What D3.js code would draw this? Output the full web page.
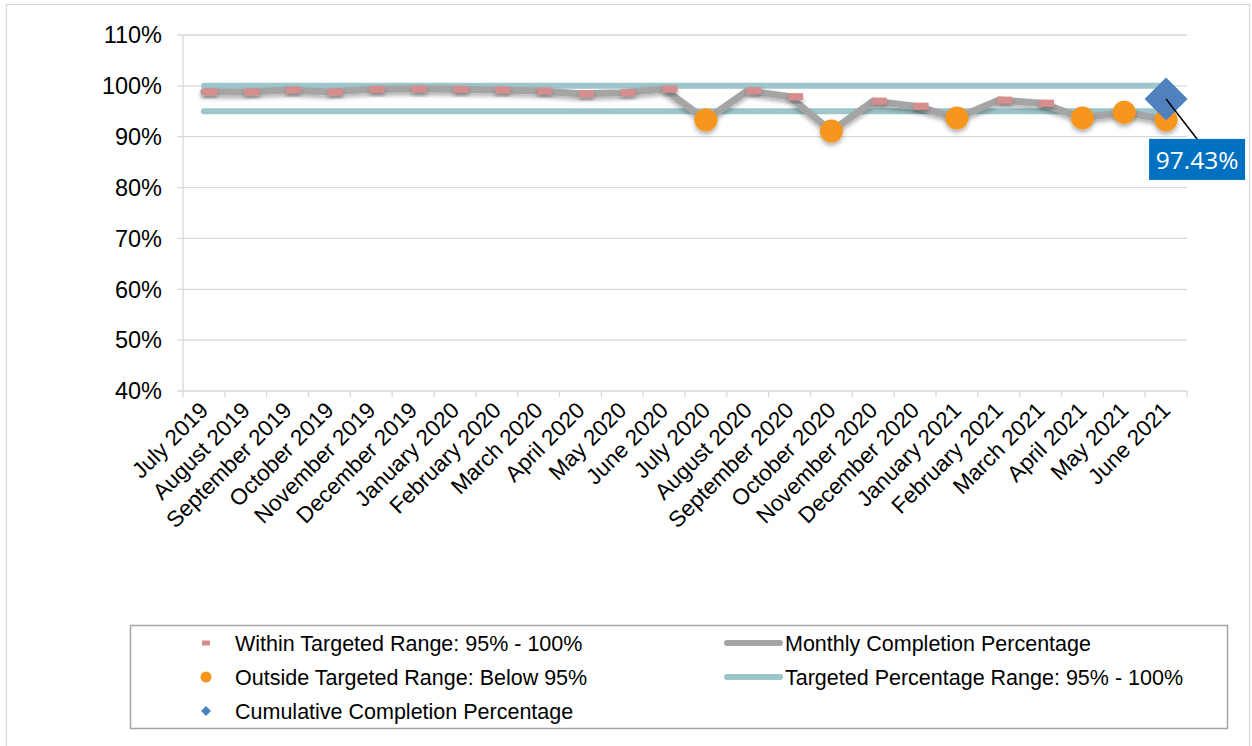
<!DOCTYPE html>
<html>
<head>
<meta charset="utf-8">
<script src="https://cdn.jsdelivr.net/npm/d3@7/dist/d3.min.js"></script>
<style>
  html, body { margin: 0; padding: 0; background: #fff; }
  svg { display: block; font-family: "Liberation Sans", Arial, sans-serif; }
</style>
</head>
<body>
<svg id="chart" width="1252" height="746"></svg>
<script>
// ---- Data ----
const months = ["July 2019","August 2019","September 2019","October 2019","November 2019","December 2019",
  "January 2020","February 2020","March 2020","April 2020","May 2020","June 2020",
  "July 2020","August 2020","September 2020","October 2020","November 2020","December 2020",
  "January 2021","February 2021","March 2021","April 2021","May 2021","June 2021"];
const monthlyPct = [98.85, 98.8, 99.19, 98.8, 99.32, 99.38, 99.32, 99.19, 98.99, 98.46, 98.66, 99.38,
  93.3, 99.05, 97.87, 91.1, 97.0, 96.0, 93.7, 97.2, 96.6, 93.7, 94.8, 93.3];
const targetLow = 95;
const targetHigh = 100;
const cumulativePct = 97.43;
const cumulativeMonth = "June 2021";
const yTicks = [40, 50, 60, 70, 80, 90, 100, 110];
const legendLeft = ["Within Targeted Range: 95% - 100%", "Outside Targeted Range: Below 95%", "Cumulative Completion Percentage"];
const legendRight = ["Monthly Completion Percentage", "Targeted Percentage Range: 95% - 100%"];

// ---- Colors ----
const cGray = "#A5A5A5", cTeal = "#9DC6CA", cPink = "#D68D8D", cOrange = "#F7961D", cBlue = "#4F81BD", cGrid = "#D9D9D9";

const svg = d3.select("#chart");

const defs = svg.append("defs");
const f = defs.append("filter").attr("id", "shadow").attr("x", "-30%").attr("y", "-30%").attr("width", "160%").attr("height", "180%");
f.append("feDropShadow").attr("dx", 0).attr("dy", 3).attr("stdDeviation", 2).attr("flood-color", "#000").attr("flood-opacity", 0.3);

// outer frame
svg.append("rect").attr("x", 6.5).attr("y", 4.5).attr("width", 1243).attr("height", 745)
  .attr("fill", "none").attr("stroke", "#D9D9D9").attr("stroke-width", 1.3);

const x = d3.scaleBand().domain(months).range([183, 1187]);
const y = d3.scaleLinear().domain([40, 110]).range([391, 35]);
const cx = m => x(m) + x.bandwidth() / 2;

// gridlines
svg.append("g").selectAll("line").data(yTicks).join("line")
  .attr("x1", 177).attr("x2", 1187)
  .attr("y1", d => y(d)).attr("y2", d => y(d))
  .attr("stroke", cGrid).attr("stroke-width", 1.3);

// y axis line
svg.append("line").attr("x1", 183).attr("x2", 183).attr("y1", y(110)).attr("y2", y(40))
  .attr("stroke", cGrid).attr("stroke-width", 1.3);

// x tick marks at band boundaries
const bounds = months.map(m => x(m)).concat([x.range()[1]]);
svg.append("g").selectAll("line").data(bounds).join("line")
  .attr("x1", d => d).attr("x2", d => d).attr("y1", y(40)).attr("y2", y(40) + 6)
  .attr("stroke", cGrid).attr("stroke-width", 1.3);

// y labels
svg.append("g").selectAll("text").data(yTicks).join("text")
  .attr("x", 162).attr("y", d => y(d)).attr("dy", "0.35em")
  .attr("text-anchor", "end").attr("font-size", 23.5).attr("fill", "#000")
  .text(d => d + "%");

// x labels
svg.append("g").selectAll("text").data(months).join("text")
  .attr("transform", m => `translate(${cx(m)},${y(40) + 15}) rotate(-45)`)
  .attr("text-anchor", "end").attr("dy", "0.35em")
  .attr("font-size", 22.5).attr("fill", "#000")
  .text(m => m);

// target lines
const lineGen = d3.line().x(d => cx(d.m)).y(d => y(d.v));
[targetHigh, targetLow].forEach(t => {
  svg.append("path").datum(months.map(m => ({ m, v: t })))
    .attr("d", lineGen).attr("fill", "none").attr("stroke", cTeal)
    .attr("stroke-width", 6).attr("stroke-linecap", "round");
});

// monthly line
const monthly = months.map((m, i) => ({ m, v: monthlyPct[i] }));
svg.append("path").datum(monthly)
  .attr("d", lineGen).attr("fill", "none").attr("stroke", cGray)
  .attr("stroke-width", 7).attr("stroke-linecap", "round").attr("stroke-linejoin", "round")
  .attr("filter", "url(#shadow)");

// within-range markers (dash)
svg.append("g").selectAll("rect").data(monthly.filter(d => d.v >= targetLow)).join("rect")
  .attr("x", d => cx(d.m) + 6 - 7.5).attr("y", d => y(d.v) - 3.5)
  .attr("width", 15).attr("height", 7)
  .attr("fill", cPink).attr("filter", "url(#shadow)");

// outside-range markers
svg.append("g").selectAll("circle").data(monthly.filter(d => d.v < targetLow)).join("circle")
  .attr("cx", d => cx(d.m)).attr("cy", d => y(d.v)).attr("r", 11.5)
  .attr("fill", cOrange).attr("filter", "url(#shadow)");

// cumulative diamond
const dx0 = cx(cumulativeMonth), dy0 = y(cumulativePct);
svg.append("path")
  .attr("d", d3.symbol().type(d3.symbolSquare).size(2 * 21.5 * 21.5)())
  .attr("transform", `translate(${dx0},${dy0}) rotate(45)`)
  .attr("fill", cBlue);

// data label
const lbX = dx0 + 31, lbY = dy0 + 40;
svg.append("line").attr("x1", dx0).attr("y1", dy0).attr("x2", lbX).attr("y2", lbY)
  .attr("stroke", "#000").attr("stroke-width", 1.5);
svg.append("rect").attr("x", lbX - 48).attr("y", lbY).attr("width", 96).attr("height", 41)
  .attr("fill", "#0070C0");
svg.append("text").attr("x", lbX).attr("y", lbY + 21).attr("dy", "0.35em")
  .attr("text-anchor", "middle").attr("fill", "#fff")
  .attr("font-family", "'Open Sans', sans-serif").attr("font-size", 24.5)
  .text(cumulativePct.toFixed(2) + "%");

// legend
svg.append("rect").attr("x", 130.5).attr("y", 625.5).attr("width", 1097).attr("height", 103)
  .attr("fill", "#fff").attr("stroke", "#A6A6A6").attr("stroke-width", 1.5);
const rowY = [643, 677, 711];
const lg = svg.append("g").attr("font-size", 21.5).attr("fill", "#000");
legendLeft.forEach((t, i) => {
  lg.append("text").attr("x", 235).attr("y", rowY[i]).attr("dy", "0.35em").text(t);
});
legendRight.forEach((t, i) => {
  lg.append("text").attr("x", 785).attr("y", rowY[i]).attr("dy", "0.35em").text(t);
});
svg.append("rect").attr("x", 202).attr("y", rowY[0] - 2.5).attr("width", 8).attr("height", 5).attr("fill", cPink);
svg.append("circle").attr("cx", 206).attr("cy", rowY[1]).attr("r", 5.5).attr("fill", cOrange);
svg.append("path").attr("d", d3.symbol().type(d3.symbolSquare).size(50)())
  .attr("transform", `translate(206,${rowY[2]}) rotate(45)`).attr("fill", cBlue);
svg.append("line").attr("x1", 727).attr("x2", 780).attr("y1", rowY[0]).attr("y2", rowY[0])
  .attr("stroke", cGray).attr("stroke-width", 6).attr("stroke-linecap", "round");
svg.append("line").attr("x1", 727).attr("x2", 780).attr("y1", rowY[1]).attr("y2", rowY[1])
  .attr("stroke", cTeal).attr("stroke-width", 6).attr("stroke-linecap", "round");
</script>
</body>
</html>
